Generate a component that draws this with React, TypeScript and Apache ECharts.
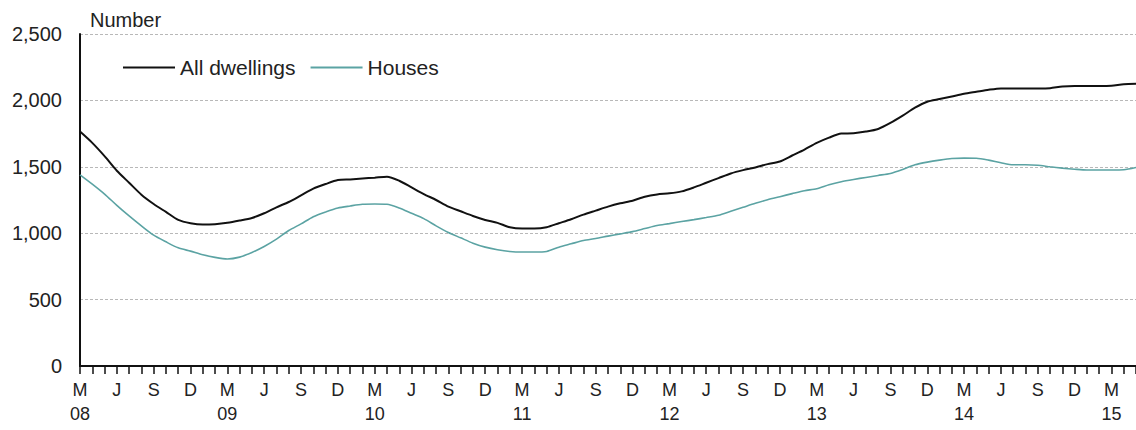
import React, { useEffect, useRef } from "react";
import * as echarts from "echarts";

const monthLetters = ["J", "F", "M", "A", "M", "J", "J", "A", "S", "O", "N", "D"];
const startYear = 2008;
const startMonth = 2; // March (0-based)
const monthCount = 87; // Mar 2008 .. May 2015

const categories: string[] = Array.from({ length: monthCount }, (_, i) => {
  const m = (startMonth + i) % 12;
  const y = startYear + Math.floor((startMonth + i) / 12);
  return `${y}-${String(m + 1).padStart(2, "0")}`;
});

const allDwellings = [
  1765, 1680, 1580, 1470, 1380, 1290, 1220, 1160, 1100, 1075, 1065, 1068,
  1078, 1095, 1115, 1150, 1195, 1235, 1285, 1335, 1370, 1400, 1405, 1412,
  1418, 1425, 1395, 1345, 1295, 1250, 1200, 1165, 1130, 1100, 1078, 1045,
  1035, 1035, 1045, 1075, 1105, 1140, 1170, 1200, 1225, 1245, 1275, 1292,
  1300, 1315, 1345, 1380, 1415, 1450, 1475, 1495, 1520, 1540, 1585, 1630,
  1680, 1720, 1750, 1752, 1765, 1785, 1830, 1885, 1945, 1990, 2010, 2030,
  2050, 2065, 2080, 2090, 2090, 2090, 2090, 2092, 2105, 2108, 2108, 2108,
  2110, 2122, 2125,
];

const houses = [
  1440, 1370, 1295, 1210, 1130, 1055, 985, 935, 890, 865, 838, 818,
  806, 820, 855, 900, 955, 1020, 1070, 1124, 1160, 1190, 1205, 1218,
  1220, 1218, 1190, 1150, 1110, 1055, 1005, 965, 925, 895, 875, 862,
  858, 858, 862, 895, 920, 945, 960, 978, 995, 1012, 1035, 1058,
  1072, 1088, 1102, 1118, 1135, 1165, 1195, 1225, 1252, 1275, 1298, 1320,
  1335, 1365, 1388, 1405, 1420, 1435, 1450, 1480, 1515, 1535, 1550, 1562,
  1565, 1564, 1550, 1530, 1515, 1515, 1512, 1500, 1490, 1482, 1476, 1476,
  1476, 1478, 1495,
];

const seriesNames = ["All dwellings", "Houses"];
const yTicks = [0, 500, 1000, 1500, 2000, 2500];

export default function App() {
  const ref = useRef<HTMLDivElement>(null);
  useEffect(() => {
    document.body.style.margin = "0";
    const chart = echarts.init(ref.current!, undefined, { renderer: "svg" });
    const font = "Liberation Sans, Arial, sans-serif";
    chart.setOption({
      animation: false,
      textStyle: { fontFamily: font },
      grid: { left: 80, top: 34, right: 0, bottom: 64, containLabel: false },
      title: {
        text: "Number",
        left: 85,
        top: 5,
        textStyle: { fontFamily: font, fontSize: 20, fontWeight: "normal", color: "#222" },
      },
      legend: {
        left: 123,
        top: 57,
        padding: 0,
        icon: "rect",
        itemWidth: 52,
        itemHeight: 2,
        itemGap: 15,
        textStyle: { fontFamily: font, fontSize: 21, color: "#222" },
        data: seriesNames,
      },
      xAxis: {
        type: "category",
        data: categories,
        boundaryGap: false,
        axisLine: { lineStyle: { color: "#111", width: 2 } },
        axisTick: { show: true, interval: 0, length: 8, lineStyle: { color: "#111", width: 1.5 } },
        axisLabel: {
          interval: 2,
          margin: 12,
          fontFamily: font,
          fontSize: 18,
          lineHeight: 24,
          color: "#222",
          formatter: (value: string) => {
            const [y, m] = value.split("-");
            const mi = parseInt(m, 10) - 1;
            const letter = monthLetters[mi];
            return mi === 2 ? `${letter}\n${y.slice(2)}` : letter;
          },
        },
        splitLine: { show: false },
      },
      yAxis: {
        type: "value",
        min: yTicks[0],
        max: yTicks[yTicks.length - 1],
        interval: 500,
        axisLine: { show: true, lineStyle: { color: "#111", width: 2 } },
        axisTick: { show: false },
        axisLabel: {
          margin: 18,
          fontFamily: font,
          fontSize: 20,
          color: "#222",
          formatter: (v: number) => v.toLocaleString("en-US"),
        },
        splitLine: { show: true, lineStyle: { color: "#b8b8b8", width: 1, type: [3, 2] } },
      },
      series: [
        {
          name: seriesNames[0],
          type: "line",
          data: allDwellings,
          symbol: "none",
          smooth: 0.25,
          lineStyle: { color: "#111", width: 2 },
          itemStyle: { color: "#111" },
        },
        {
          name: seriesNames[1],
          type: "line",
          data: houses,
          symbol: "none",
          smooth: 0.25,
          lineStyle: { color: "#5ba3a3", width: 1.6 },
          itemStyle: { color: "#5ba3a3" },
        },
      ],
    });
    return () => chart.dispose();
  }, []);
  return <div ref={ref} style={{ width: 1136, height: 430 }} />;
}
